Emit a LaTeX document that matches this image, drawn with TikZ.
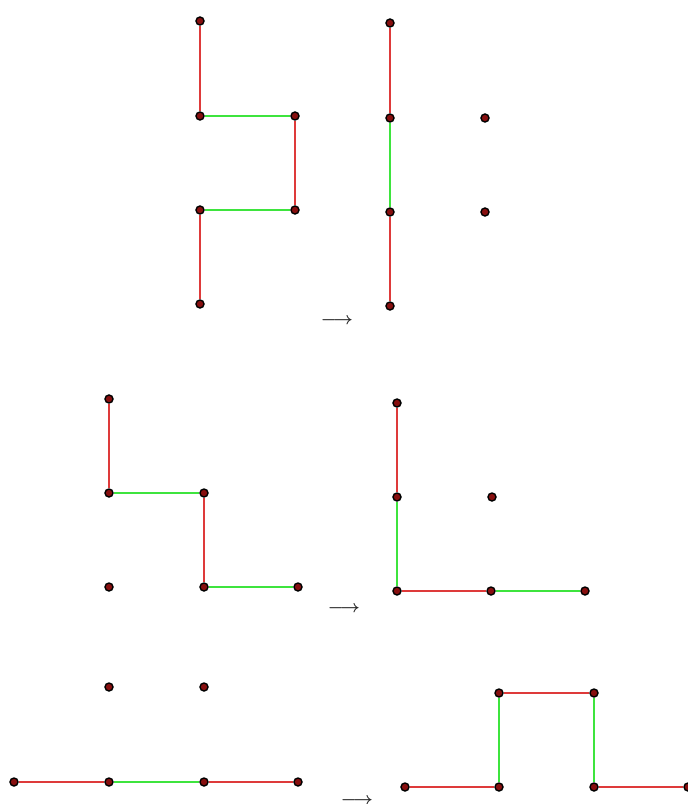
\documentclass[tikz,border=0pt]{standalone}
\usepackage{amsmath,amssymb}
\usepackage{tikz}
\usetikzlibrary{arrows.meta,positioning}
\usepackage{xcolor}
\definecolor{redge}{RGB}{222,58,58}
\definecolor{gedge}{RGB}{62,228,62}
\definecolor{dotred}{RGB}{135,15,15}

\begin{document}
\begin{tikzpicture}[
    x=1pt, y=-1pt,
    pt/.style={circle, draw=black, fill=dotred, line width=1.4pt,
               inner sep=0pt, minimum size=8pt},
    rd/.style={draw=redge, line width=2.3pt},
    gn/.style={draw=gedge, line width=2.3pt},
    tto/.style={font=\fontsize{17}{17}\selectfont\boldmath, text=black!85, inner sep=0pt}
  ]
  \useasboundingbox (0,0) rectangle (688,804);
  %% Top left
  \node[pt] (a1) at (200,21)  {};
  \node[pt] (a2) at (200,116) {};
  \node[pt] (a3) at (295,116) {};
  \node[pt] (a4) at (295,210) {};
  \node[pt] (a5) at (200,210) {};
  \node[pt] (a6) at (200,304) {};
  \draw[rd] (a1) -- (a2);
  \draw[gn] (a2) -- (a3);
  \draw[rd] (a3) -- (a4);
  \draw[gn] (a4) -- (a5);
  \draw[rd] (a5) -- (a6);
  \node[tto] (t1) at (337,321) {$\longrightarrow$};
  %% Top right
  \node[pt] (b1) at (390,23)  {};
  \node[pt] (b2) at (390,118) {};
  \node[pt] (b3) at (390,212) {};
  \node[pt] (b4) at (390,306) {};
  \node[pt] (b5) at (485,118) {};
  \node[pt] (b6) at (485,212) {};
  \draw[rd] (b1) -- (b2);
  \draw[gn] (b2) -- (b3);
  \draw[rd] (b3) -- (b4);
  %% Middle left
  \node[pt] (c1) at (109,399) {};
  \node[pt] (c2) at (109,493) {};
  \node[pt] (c3) at (204,493) {};
  \node[pt] (c4) at (204,587) {};
  \node[pt] (c5) at (298,587) {};
  \node[pt] (c6) at (109,587) {};
  \draw[rd] (c1) -- (c2);
  \draw[gn] (c2) -- (c3);
  \draw[rd] (c3) -- (c4);
  \draw[gn] (c4) -- (c5);
  \node[tto] (t2) at (344,609) {$\longrightarrow$};
  %% Middle right
  \node[pt] (d1) at (397,403) {};
  \node[pt] (d2) at (397,497) {};
  \node[pt] (d3) at (492,497) {};
  \node[pt] (d4) at (397,591) {};
  \node[pt] (d5) at (491,591) {};
  \node[pt] (d6) at (585,591) {};
  \draw[rd] (d1) -- (d2);
  \draw[gn] (d2) -- (d4);
  \draw[rd] (d4) -- (d5);
  \draw[gn] (d5) -- (d6);
  %% Bottom left
  \node[pt] (e1) at (109,687) {};
  \node[pt] (e2) at (204,687) {};
  \node[pt] (e3) at (14,782)  {};
  \node[pt] (e4) at (109,782) {};
  \node[pt] (e5) at (204,782) {};
  \node[pt] (e6) at (298,782) {};
  \draw[rd] (e3) -- (e4);
  \draw[gn] (e4) -- (e5);
  \draw[rd] (e5) -- (e6);
  \node[tto] (t3) at (357,801) {$\longrightarrow$};
  %% Bottom right
  \node[pt] (f1) at (405,787) {};
  \node[pt] (f2) at (499,787) {};
  \node[pt] (f3) at (499,693) {};
  \node[pt] (f4) at (594,693) {};
  \node[pt] (f5) at (594,787) {};
  \node[pt] (f6) at (688,787) {};
  \draw[rd] (f1) -- (f2);
  \draw[gn] (f2) -- (f3);
  \draw[rd] (f3) -- (f4);
  \draw[gn] (f4) -- (f5);
  \draw[rd] (f5) -- (f6);
\end{tikzpicture}
\end{document}
